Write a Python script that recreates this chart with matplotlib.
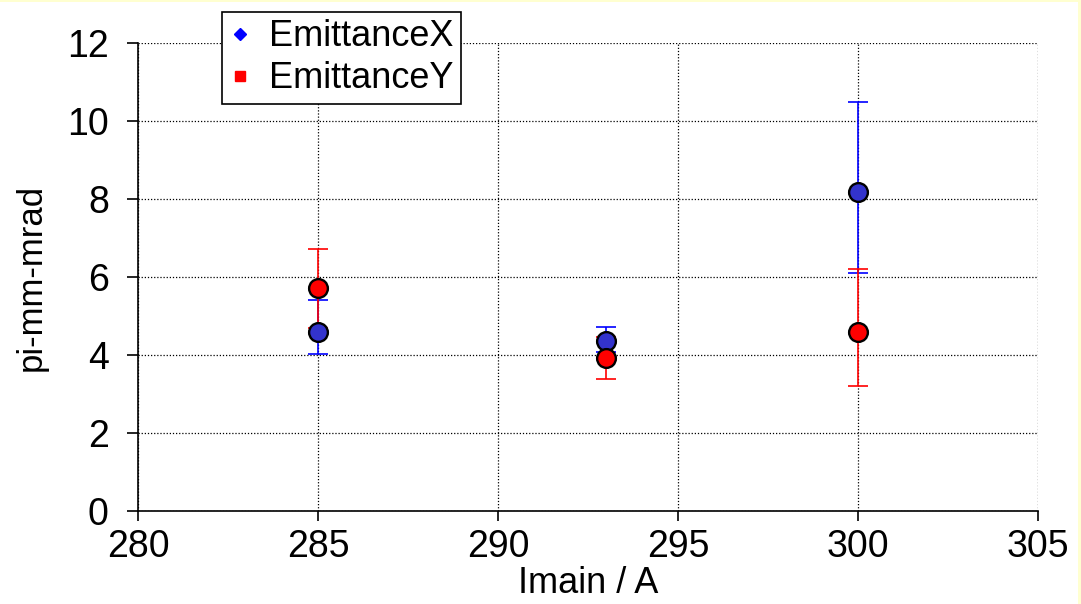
import matplotlib
matplotlib.use("Agg")
import matplotlib.pyplot as plt
from matplotlib.lines import Line2D
from matplotlib.patches import Rectangle

# Data
imain = [285, 293, 300]
emit_x = [4.60, 4.37, 8.19]
emit_x_lo = [0.57, 0.30, 2.10]
emit_x_hi = [0.81, 0.34, 2.30]
emit_y = [5.71, 3.92, 4.58]
emit_y_lo = [1.02, 0.54, 1.38]
emit_y_hi = [1.02, 0.54, 1.62]
xticks = [280, 285, 290, 295, 300, 305]
yticks = [0, 2, 4, 6, 8, 10, 12]

plt.rcParams['font.family'] = ['Liberation Sans', 'DejaVu Sans']

fig = plt.figure(figsize=(10.81, 6.04), dpi=100, facecolor='#FFFFD0')
fig.patches.append(Rectangle((0, 0), 1078/1081, 1 - 2/604, transform=fig.transFigure,
                             facecolor='white', edgecolor='none', zorder=-10))
ax = fig.add_axes([138/1081, 1 - 511/604, 900/1081, 468/604])
ax.set_facecolor('white')

ax.errorbar(imain, emit_x, yerr=[emit_x_lo, emit_x_hi], fmt='none', ecolor='#0000FF',
            elinewidth=1.2, capsize=7.5, capthick=1.2, zorder=2)
ax.errorbar(imain, emit_y, yerr=[emit_y_lo, emit_y_hi], fmt='none', ecolor='#FF0000',
            elinewidth=1.2, capsize=7.5, capthick=1.2, zorder=2.1)
ax.plot(imain, emit_x, 'o', ms=13.5, mfc='#3333CC', mec='black', mew=1.7, zorder=3)
ax.plot(imain, emit_y, 'o', ms=13.5, mfc='#FF0000', mec='black', mew=1.7, zorder=4)

ax.set_xlim(280, 305)
ax.set_ylim(0, 12)
ax.set_xticks(xticks)
ax.set_yticks(yticks)
ax.grid(True, color='black', linestyle=(0, (1, 1.5)), linewidth=0.9)
ax.set_axisbelow(True)
for s in ['top', 'right']:
    ax.spines[s].set_visible(False)
for s in ['left', 'bottom']:
    ax.spines[s].set_linewidth(1.2)
ax.tick_params(axis='y', direction='out', length=8, width=1.2, pad=13, labelsize=27)
ax.tick_params(axis='x', direction='out', length=7, width=1.2, pad=6, labelsize=27)
ax.set_xlabel('Imain / A', fontsize=26, labelpad=1)
ax.set_ylabel('pi-mm-mrad', fontsize=25, labelpad=14)

handles = [Line2D([], [], linestyle='none', marker='D', ms=6.5, mfc='#0000FF', mec='#0000FF'),
           Line2D([], [], linestyle='none', marker='s', ms=6.5, mfc='#FF0000', mec='#FF0000')]
leg = fig.legend(handles, ['EmittanceX', 'EmittanceY'], loc='upper left',
                 bbox_to_anchor=(222/1081, 1 - 12/604), fontsize=26, frameon=True,
                 fancybox=False, edgecolor='black', framealpha=1, handlelength=0.6,
                 handletextpad=0.5, borderpad=0.2, labelspacing=0.2, borderaxespad=0)
leg.get_frame().set_linewidth(1.2)

fig.savefig('out.png', dpi=100, facecolor=fig.get_facecolor())
